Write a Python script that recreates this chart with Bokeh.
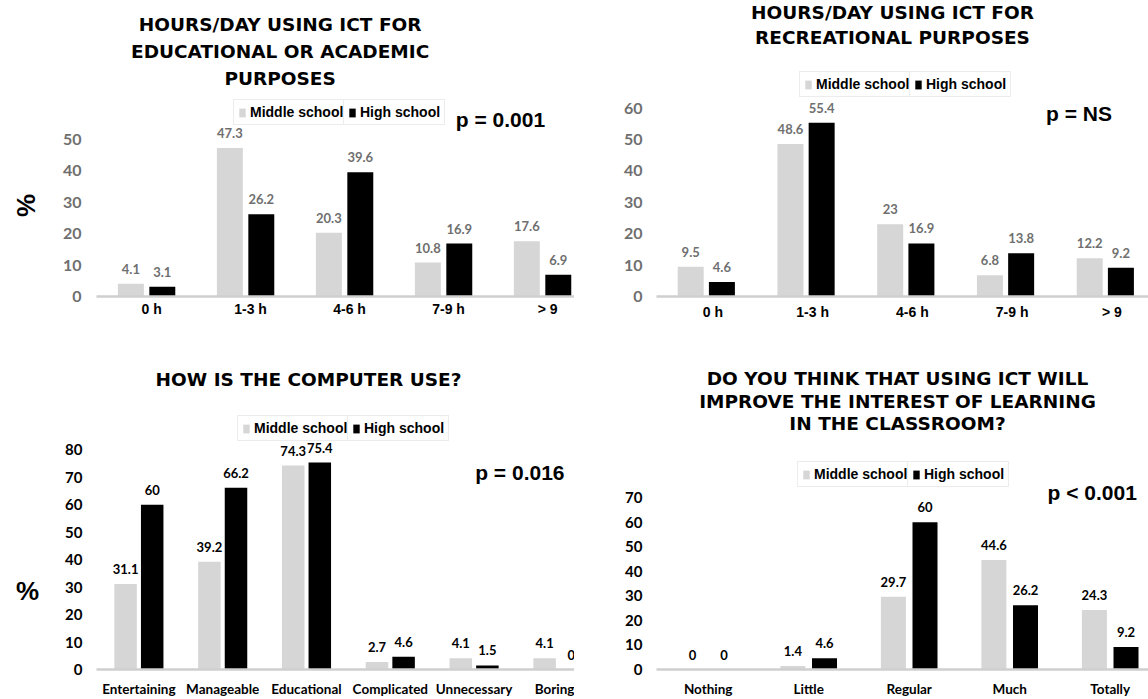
import math
from bokeh.plotting import figure
from bokeh.layouts import gridplot
from bokeh.models import ColumnDataSource, FixedTicker, Legend, LegendItem, Label, Range1d
from bokeh.core.properties import value
from bokeh.embed import file_html
from bokeh.resources import INLINE

# ---------------- data ----------------
series_names = ["Middle school", "High school"]

edu_categories = ["0 h", "1-3 h", "4-6 h", "7-9 h", "> 9"]
edu_middle = [4.1, 47.3, 20.3, 10.8, 17.6]
edu_high = [3.1, 26.2, 39.6, 16.9, 6.9]
edu_title = ["HOURS/DAY USING ICT FOR", "EDUCATIONAL OR ACADEMIC", "PURPOSES"]
edu_p = "p = 0.001"
edu_yticks = [0, 10, 20, 30, 40, 50]

rec_categories = ["0 h", "1-3 h", "4-6 h", "7-9 h", "> 9"]
rec_middle = [9.5, 48.6, 23, 6.8, 12.2]
rec_high = [4.6, 55.4, 16.9, 13.8, 9.2]
rec_title = ["HOURS/DAY USING ICT FOR", "RECREATIONAL PURPOSES"]
rec_p = "p = NS"
rec_yticks = [0, 10, 20, 30, 40, 50, 60]

use_categories = ["Entertaining", "Manageable", "Educational", "Complicated", "Unnecessary", "Boring"]
use_middle = [31.1, 39.2, 74.3, 2.7, 4.1, 4.1]
use_high = [60, 66.2, 75.4, 4.6, 1.5, 0]
use_title = ["HOW IS THE COMPUTER USE?"]
use_p = "p = 0.016"
use_yticks = [0, 10, 20, 30, 40, 50, 60, 70, 80]

int_categories = ["Nothing", "Little", "Regular", "Much", "Totally"]
int_middle = [0, 1.4, 29.7, 44.6, 24.3]
int_high = [0, 4.6, 60, 26.2, 9.2]
int_title = ["DO YOU THINK THAT USING ICT WILL", "IMPROVE THE INTEREST OF LEARNING", "IN THE CLASSROOM?"]
int_p = "p < 0.001"
int_yticks = [0, 10, 20, 30, 40, 50, 60, 70]

y_label = "%"

# ---------------- styling ----------------
GRAY = "#d6d6d6"
BLACK = "#000000"
TITLE_FONT = "DejaVu Sans"
ARIAL = "Liberation Sans"
CAL = "Lato"

style_top = dict(num_font=CAL, num_size="13px", num_color="#6f6f6f",
                 tick_size="16px", tick_color="#6f6f6f",
                 cat_font=ARIAL, cat_size="14px")
style_bot = dict(num_font=CAL, num_size="13px", num_color="#000000",
                 tick_size="15px", tick_color="#000000",
                 cat_font=CAL, cat_size="13.5px")

# pct = (x offset inside the left side panel, y in panel pixels, rotated?)
geo_edu = dict(W=574, H=338, L=95, B=299, ppu=3.17, S=99.2, label0=150.2, shift=5,
               half=15.75, bw=26, ystand=15, xstand=4,
               title_x=279, title_y=[24.3, 51.5, 78.7], p_x=455, p_y=120,
               leg_x=137, leg_y=171, pct=(-4, 208, True))
geo_rec = dict(W=574, H=338, L=82, B=296, ppu=3.138, S=99.75, label0=138.4, shift=6.6,
               half=15.6, bw=26, ystand=14, xstand=7,
               title_x=318, title_y=[11.7, 36.5], p_x=471.6, p_y=113,
               leg_x=143, leg_y=199, pct=None)
geo_use = dict(W=574, H=361, L=96, B=333, ppu=2.7625, S=83.8, label0=138.4, shift=0,
               half=13.3, bw=22.5, ystand=14, xstand=11,
               title_x=308, title_y=[41], p_x=474.7, p_y=135.3,
               leg_x=141, leg_y=228, pct=(-12, 254, False))
geo_int = dict(W=574, H=361, L=82, B=332, ppu=2.461, S=100.5, label0=133.7, shift=0,
               half=15.8, bw=25, ystand=14, xstand=11,
               title_x=323, title_y=[40.5, 63, 85.5], p_x=473, p_y=154.7,
               leg_x=141, leg_y=182, pct=None)


def make_panel(cats, mid, high, title_lines, p_text, yticks, g, st):
    W, H, L, B, S, ppu = g["W"], g["H"], g["L"], g["B"], g["S"], g["ppu"]
    xs = -(g["label0"] - L) / S
    xe = xs + (W - L) / S
    ye = B / ppu

    def dx(px):
        return xs + (px - L) / S

    def dy(py):
        return (B - py) / ppu

    p = figure(width=W, height=H, x_range=Range1d(xs, xe), y_range=Range1d(0, ye),
               output_backend="svg", toolbar_location=None,
               min_border_left=L, min_border_right=0, min_border_top=0,
               min_border_bottom=H - B)
    p.outline_line_color = None
    p.xgrid.visible = False
    p.ygrid.visible = False
    p.background_fill_color = "white"
    p.border_fill_color = "white"

    n = len(cats)
    idx = list(range(n))
    shift = g["shift"] / S
    half = g["half"] / S
    bw = g["bw"] / S
    gap = 15.0 / ppu
    src = ColumnDataSource(dict(
        xg=[i - shift - half for i in idx],
        xb=[i - shift + half for i in idx],
        mid=mid, high=high,
        mid_lab=[f"{v:g}" for v in mid],
        high_lab=[f"{v:g}" for v in high],
        mid_y=[v + gap for v in mid],
        high_y=[v + gap for v in high],
    ))
    rg = p.vbar(x="xg", top="mid", width=bw, source=src, fill_color=GRAY, line_color=None)
    rb = p.vbar(x="xb", top="high", width=bw, source=src, fill_color=BLACK, line_color=None)
    for xcol, ycol, tcol in (("xg", "mid_y", "mid_lab"), ("xb", "high_y", "high_lab")):
        p.text(x=xcol, y=ycol, text=tcol, source=src, text_align="center",
               text_baseline="middle", text_font=value(st["num_font"]),
               text_font_size=st["num_size"], text_font_style="bold",
               text_color=st["num_color"])

    # title lines
    p.text(x=[dx(g["title_x"])] * len(title_lines), y=[dy(v) for v in g["title_y"]],
           text=title_lines, text_align="center", text_baseline="middle",
           text_font=value(TITLE_FONT), text_font_size="18.5px",
           text_font_style="bold", text_color="#000000")
    # p value
    p.text(x=[dx(g["p_x"])], y=[dy(g["p_y"])], text=[p_text], text_align="left",
           text_baseline="middle", text_font=value(ARIAL), text_font_size="21px",
           text_font_style="bold", text_color="#000000")

    # legends (two separate boxes)
    for k, (r, name) in enumerate(((rg, series_names[0]), (rb, series_names[1]))):
        leg = Legend(items=[LegendItem(label=name, renderers=[r])],
                     location=(g["leg_x"] + k * 110, g["leg_y"]),
                     orientation="horizontal", padding=4, margin=0, spacing=0,
                     glyph_width=8, glyph_height=11, label_standoff=4,
                     label_text_font=ARIAL, label_text_font_style="bold",
                     label_text_font_size="14px", label_text_color="#000000",
                     border_line_color="#d9d9d9", border_line_width=1,
                     background_fill_color="white", background_fill_alpha=1.0)
        p.add_layout(leg)

    if g["pct"] is not None:
        px, py, rot = g["pct"]
        p.add_layout(Label(x=px, y=B - py, x_units="screen", y_units="screen",
                           text=y_label, text_align="center", text_baseline="middle",
                           angle=math.pi / 2 if rot else 0,
                           text_font=ARIAL, text_font_size="26px",
                           text_font_style="bold", text_color="#000000"), "left")

    xa = p.xaxis[0]
    xa.ticker = FixedTicker(ticks=idx)
    xa.major_label_overrides = {i: c for i, c in enumerate(cats)}
    xa.major_tick_out = 0
    xa.major_tick_in = 0
    xa.axis_line_color = "#cfcfcf"
    xa.axis_line_width = 2.5
    xa.major_label_standoff = g["xstand"]
    xa.major_label_text_font = st["cat_font"]
    xa.major_label_text_font_size = st["cat_size"]
    xa.major_label_text_font_style = "bold"
    xa.major_label_text_color = "#000000"

    ya = p.yaxis[0]
    ya.ticker = FixedTicker(ticks=yticks)
    ya.axis_line_color = None
    ya.major_tick_out = 0
    ya.major_tick_in = 0
    ya.major_label_standoff = g["ystand"]
    ya.major_label_text_font = CAL
    ya.major_label_text_font_size = st["tick_size"]
    ya.major_label_text_font_style = "bold"
    ya.major_label_text_color = st["tick_color"]
    return p


p1 = make_panel(edu_categories, edu_middle, edu_high, edu_title, edu_p, edu_yticks, geo_edu, style_top)
p2 = make_panel(rec_categories, rec_middle, rec_high, rec_title, rec_p, rec_yticks, geo_rec, style_top)
p3 = make_panel(use_categories, use_middle, use_high, use_title, use_p, use_yticks, geo_use, style_bot)
p4 = make_panel(int_categories, int_middle, int_high, int_title, int_p, int_yticks, geo_int, style_bot)

grid = gridplot([[p1, p2], [p3, p4]], toolbar_location=None)

with open("out.html", "w") as f:
    f.write(file_html(grid, INLINE))
